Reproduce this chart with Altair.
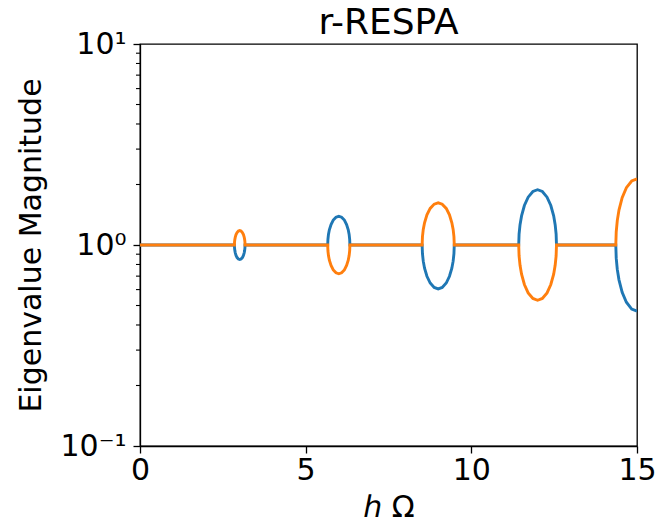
import altair as alt
import pandas as pd

# x positions (h*Omega) of the traced points
x_vals = [
    0.0,
    2.85, 2.853, 2.861, 2.874, 2.898, 2.93, 2.97, 3.01, 3.05, 3.09, 3.122, 3.146, 3.159, 3.167, 3.17,
    5.665, 5.672, 5.688, 5.715, 5.766, 5.833, 5.916, 6.0, 6.084, 6.168, 6.235, 6.285, 6.312, 6.328, 6.335,
    8.515, 8.525, 8.549, 8.588, 8.66, 8.758, 8.879, 9.0, 9.121, 9.243, 9.34, 9.412, 9.451, 9.475, 9.485,
    11.43, 11.441, 11.47, 11.516, 11.601, 11.715, 11.858, 12.0, 12.143, 12.285, 12.399, 12.485, 12.53, 12.559, 12.57,
    14.36, 14.373, 14.405, 14.456, 14.552, 14.68, 14.84, 15.0,
]

# eigenvalue magnitudes, blue series
blue_vals = [
    1.0,
    1.0, 0.968, 0.941, 0.917, 0.888, 0.866, 0.852, 0.847, 0.852, 0.866, 0.888, 0.917, 0.941, 0.968, 1.0,
    1.0, 1.068, 1.129, 1.190, 1.265, 1.330, 1.375, 1.390, 1.375, 1.330, 1.265, 1.190, 1.129, 1.068, 1.0,
    1.0, 0.905, 0.831, 0.767, 0.699, 0.647, 0.615, 0.605, 0.615, 0.647, 0.699, 0.767, 0.831, 0.905, 1.0,
    1.0, 1.134, 1.262, 1.396, 1.572, 1.730, 1.846, 1.884, 1.846, 1.730, 1.572, 1.396, 1.262, 1.134, 1.0,
    1.0, 0.860, 0.756, 0.671, 0.582, 0.519, 0.480, 0.469,
]

# eigenvalue magnitudes, orange series
orange_vals = [
    1.0,
    1.0, 1.033, 1.063, 1.091, 1.126, 1.154, 1.174, 1.180, 1.174, 1.154, 1.126, 1.091, 1.063, 1.033, 1.0,
    1.0, 0.936, 0.886, 0.840, 0.791, 0.752, 0.727, 0.719, 0.727, 0.752, 0.791, 0.840, 0.886, 0.936, 1.0,
    1.0, 1.101, 1.195, 1.290, 1.413, 1.520, 1.597, 1.622, 1.597, 1.520, 1.413, 1.290, 1.195, 1.101, 1.0,
    1.0, 0.882, 0.792, 0.716, 0.636, 0.578, 0.542, 0.531, 0.542, 0.578, 0.636, 0.716, 0.792, 0.882, 1.0,
    1.0, 1.163, 1.322, 1.491, 1.718, 1.928, 2.082, 2.133,
]

x_ticks = [0, 5, 10, 15]
y_major = [0.1, 1, 10]
y_minor = [0.2, 0.3, 0.4, 0.5, 0.6, 0.7, 0.8, 0.9, 2, 3, 4, 5, 6, 7, 8, 9]
title_text = "r-RESPA"

df = pd.DataFrame({"x": x_vals, "blue": blue_vals, "orange": orange_vals})
minor_df = pd.DataFrame({"v": y_minor})
title_df = pd.DataFrame({"t": [title_text]})

FONT = "DejaVu Sans"
W, H = 497, 402

xs = alt.Scale(domain=[0, 15], nice=False, zero=False)
ys = alt.Scale(type="log", domain=[0.1, 10], nice=False)

x_axis = alt.Axis(values=x_ticks, title="ℎ Ω", format="d", labelFlush=False,
                  titlePadding=7, labelPadding=2)
y_axis = alt.Axis(values=y_major, title="Eigenvalue Magnitude",
                  labelExpr="datum.value > 5 ? '10¹' : (datum.value > 0.5 ? '10⁰' : '10⁻¹')",
                  labelPadding=7, titlePadding=13)

base = alt.Chart(df)

blue_line = base.mark_line(color="#1f77b4", strokeWidth=2.9, clip=True).encode(
    x=alt.X("x:Q", scale=xs, axis=x_axis),
    y=alt.Y("blue:Q", scale=ys, axis=y_axis),
    order="x:Q",
)
orange_line = base.mark_line(color="#ff7f0e", strokeWidth=2.9, clip=True).encode(
    x=alt.X("x:Q", scale=xs),
    y=alt.Y("orange:Q", scale=ys),
    order="x:Q",
)
minor_ticks = alt.Chart(minor_df).mark_rule(color="black", strokeWidth=1.1).encode(
    y=alt.Y("v:Q", scale=ys),
    x=alt.value(-4),
    x2=alt.value(0),
)
title_mark = alt.Chart(title_df).mark_text(
    font=FONT, fontSize=36, color="black", align="center", baseline="alphabetic"
).encode(
    text="t:N",
    x=alt.value(W / 2),
    y=alt.value(-10),
)

chart = alt.layer(minor_ticks, blue_line, orange_line, title_mark).properties(
    width=W,
    height=H,
    background="white",
    autosize=alt.AutoSizeParams(type="none"),
    padding={"left": 140, "top": 44, "right": 20, "bottom": 80},
).configure_view(
    stroke="black", strokeWidth=1.3
).configure_axis(
    labelFont=FONT, labelFontSize=30, labelColor="black",
    titleFont=FONT, titleFontSize=30, titleFontWeight="normal", titleColor="black",
    domainColor="black", domainWidth=1.3,
    tickColor="black", tickWidth=1.3, tickSize=7,
    grid=False,
)

chart.save("out.html", embed_options={"renderer": "svg", "actions": False})
